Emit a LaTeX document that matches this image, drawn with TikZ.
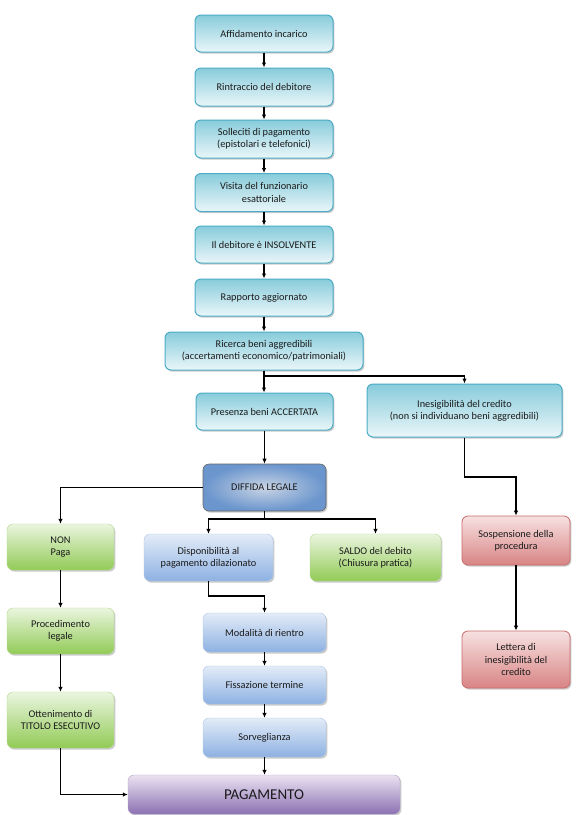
\documentclass[tikz,border=0pt]{standalone}
\usepackage{fontspec}
\setmainfont{Carlito}
\usetikzlibrary{arrows.meta,shadows,calc}
\definecolor{tealB}{HTML}{4BACC6}
\definecolor{tealT}{HTML}{88CCDB}
\definecolor{tealBot}{HTML}{EAF6F9}
\definecolor{blueT}{HTML}{E3ECF8}
\definecolor{blueB}{HTML}{8DB1E2}
\definecolor{blueL}{HTML}{7EA3D6}
\definecolor{greenT}{HTML}{EAF5DF}
\definecolor{greenB}{HTML}{92CB56}
\definecolor{greenL}{HTML}{86BE4A}
\definecolor{redT}{HTML}{F7E1E1}
\definecolor{redB}{HTML}{D98484}
\definecolor{redL}{HTML}{C86A6A}
\definecolor{purT}{HTML}{EAE3F2}
\definecolor{purB}{HTML}{8C70B2}
\definecolor{purL}{HTML}{7E62A6}
\definecolor{difIn}{HTML}{C9D4E4}
\definecolor{difOut}{HTML}{6A95CD}
\definecolor{txt}{HTML}{1A1A1A}
\tikzset{
  base/.style={rounded corners=6pt, align=center, text=txt, inner sep=2pt,
    font=\fontsize{10.3}{12.3}\selectfont,
    drop shadow={shadow xshift=1.4pt,shadow yshift=-1.6pt,fill=black!45,opacity=.45}},
  teal/.style={base, draw=tealB, line width=1pt, top color=tealT, bottom color=tealBot},
  bluebox/.style={base, draw=blueL!60, line width=0.4pt, top color=blueT, bottom color=blueB},
  greenbox/.style={base, draw=greenL!60, line width=0.4pt, top color=greenT, bottom color=greenB},
  redbox/.style={base, draw=redL, line width=0.8pt, top color=redT, bottom color=redB},
  purbox/.style={base, draw=purL!60, line width=0.4pt, top color=purT, bottom color=purB},
  difbox/.style={base, draw=black!60, line width=0.6pt, inner color=difIn, outer color=difOut},
  sz/.style 2 args={minimum width=#1pt, minimum height=#2pt},
  conn/.style={line width=1.1pt, -{Latex[length=5pt,width=4.5pt]}}
}
\begin{document}
\begin{tikzpicture}[x=1pt,y=-1pt]
\fill[white] (0,0) rectangle (580,815);
\useasboundingbox (0,0) rectangle (580,815);

\node[teal, sz={138}{37}] (a1) at (264,33.5) {Affidamento incarico};
\node[teal, sz={138}{38}] (a2) at (264,87) {Rintraccio del debitore};
\node[teal, sz={138}{38}] (a3) at (264,139) {Solleciti di pagamento\\(epistolari e telefonici)};
\node[teal, sz={138}{38}] (a4) at (264,192.5) {Visita del funzionario\\esattoriale};
\node[teal, sz={138}{37}] (a5) at (264,244.5) {Il debitore è INSOLVENTE};
\node[teal, sz={138}{37}] (a6) at (264,297.5) {Rapporto aggiornato};
\node[teal, sz={198}{38}] (a7) at (264,351) {Ricerca beni aggredibili\\(accertamenti economico/patrimoniali)};
\node[teal, sz={137}{37}] (a8) at (264.5,411.5) {Presenza beni ACCERTATA};
\node[teal, sz={195}{53}] (b1) at (464.5,410.5) {Inesigibilità del credito\\(non si individuano beni aggredibili)};
\node[redbox, sz={108}{49}] (b2) at (516,540.5) {Sospensione della\\procedura};
\node[redbox, sz={108}{57}] (b3) at (516,659.5) {Lettera di\\inesigibilità del\\credito};
\node[difbox, sz={123}{47}] (d) at (264.5,487.5) {DIFFIDA LEGALE};
\node[greenbox, sz={107}{46}] (g1) at (60.5,547) {NON\\Paga};
\node[greenbox, sz={107}{46}] (g2) at (60.5,631) {Procedimento\\legale};
\node[greenbox, sz={107}{56}] (g3) at (60.5,720) {Ottenimento di\\TITOLO ESECUTIVO};
\node[bluebox, sz={129}{47}] (c1) at (208.5,557.5) {Disponibilità al\\pagamento dilazionato};
\node[greenbox, sz={131}{47}] (c2) at (375.5,557.5) {SALDO del debito\\(Chiusura pratica)};
\node[bluebox, sz={123}{39}] (c3) at (264.5,632.5) {Modalità di rientro};
\node[bluebox, sz={123}{38}] (c4) at (264.5,685) {Fissazione termine};
\node[bluebox, sz={123}{39}] (c5) at (264.5,737.5) {Sorveglianza};
\node[purbox, sz={272}{39}, font=\fontsize{15}{17}\selectfont] (p) at (264,794.5) {PAGAMENTO};

\draw[conn] (a1) -- (a2);
\draw[conn] (a2) -- (a3);
\draw[conn] (a3) -- (a4);
\draw[conn] (a4) -- (a5);
\draw[conn] (a5) -- (a6);
\draw[conn] (a6) -- (a7);
\draw[conn] (a7.south) -- (a7.south |- a8.north);
\draw[conn] (a7.south) |- (464.5,376) -- (b1.north);
\draw[conn] (a8) -- (d);
\draw[conn] (b1.south) |- (516,477) -- (b2.north);
\draw[conn] (b2) -- (b3);
\draw[conn] (d.west) -| (g1.north);
\draw[conn] (d.south) |- (208.5,519) -- (c1.north);
\draw[conn] (d.south) |- (375.5,519) -- (c2.north);
\draw[conn] (c1.south) |- (264.5,596) -- (c3.north);
\draw[conn] (c3) -- (c4);
\draw[conn] (c4) -- (c5);
\draw[conn] (c5) -- (c5.south |- p.north);
\draw[conn] (g1) -- (g2);
\draw[conn] (g2) -- (g3);
\draw[conn] (g3.south) |- (p.west);
\end{tikzpicture}
\end{document}
